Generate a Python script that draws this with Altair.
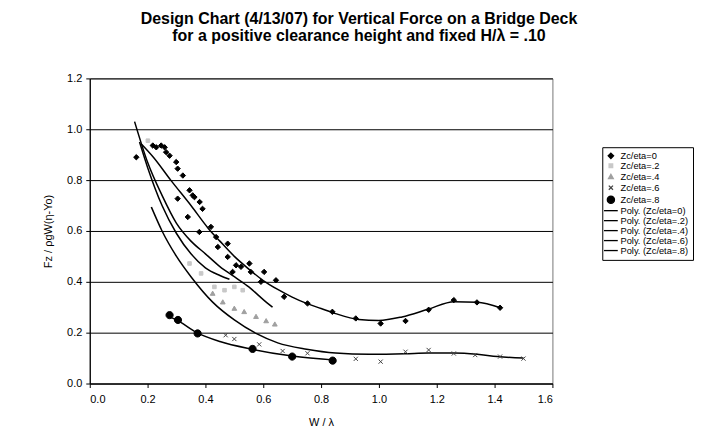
import altair as alt
import pandas as pd

# ---------------- data ----------------
SERIES = ["Zc/eta=0", "Zc/eta=.2", "Zc/eta=.4", "Zc/eta=.6", "Zc/eta=.8"]
POLY = ["Poly. (Zc/eta=0)", "Poly. (Zc/eta=.2)", "Poly. (Zc/eta=.4)",
        "Poly. (Zc/eta=.6)", "Poly. (Zc/eta=.8)"]

# measured points
x0 = [0.161, 0.218, 0.23, 0.247, 0.259, 0.264, 0.276, 0.299, 0.304, 0.322, 0.345,
      0.356, 0.362, 0.38, 0.39, 0.304, 0.339, 0.379, 0.419, 0.437, 0.443, 0.477,
      0.477, 0.494, 0.506, 0.523, 0.552, 0.557, 0.592, 0.603, 0.644, 0.672, 0.753,
      0.839, 0.92, 1.006, 1.092, 1.172, 1.259, 1.339, 1.419]
y0 = [0.89, 0.936, 0.929, 0.936, 0.929, 0.91, 0.896, 0.871, 0.845, 0.818, 0.76,
      0.74, 0.733, 0.714, 0.687, 0.727, 0.655, 0.596, 0.616, 0.576, 0.537, 0.55,
      0.498, 0.439, 0.465, 0.459, 0.472, 0.439, 0.40, 0.439, 0.406, 0.341, 0.315,
      0.282, 0.256, 0.236, 0.246, 0.29, 0.328, 0.319, 0.298]
x2 = [0.201, 0.345, 0.385, 0.431, 0.466, 0.5, 0.529]
y2 = [0.955, 0.472, 0.433, 0.38, 0.367, 0.38, 0.367]
x4 = [0.425, 0.46, 0.5, 0.534, 0.575, 0.61, 0.64]
y4 = [0.354, 0.32, 0.295, 0.282, 0.263, 0.246, 0.233]
x6 = [0.47, 0.5, 0.586, 0.667, 0.753, 0.92, 1.006, 1.092, 1.172, 1.259, 1.333, 1.419, 1.5]
y6 = [0.19, 0.175, 0.154, 0.128, 0.119, 0.097, 0.086, 0.125, 0.132, 0.118, 0.112, 0.106, 0.098]
x8 = [0.276, 0.305, 0.373, 0.563, 0.70, 0.84]
y8 = [0.269, 0.25, 0.197, 0.136, 0.106, 0.09]

# polynomial trend lines (traced)
lx0 = [0.18, 0.22, 0.28, 0.35, 0.41, 0.45, 0.5, 0.55, 0.6, 0.65, 0.7, 0.75, 0.8,
       0.85, 0.93, 1.0, 1.08, 1.17, 1.26, 1.34, 1.42]
ly0 = [0.94, 0.89, 0.80, 0.70, 0.61, 0.56, 0.50, 0.45, 0.405, 0.37, 0.34, 0.315,
       0.295, 0.275, 0.252, 0.248, 0.262, 0.292, 0.322, 0.32, 0.298]
lx2 = [0.155, 0.2, 0.25, 0.3, 0.35, 0.4, 0.45, 0.5, 0.55, 0.6, 0.632]
ly2 = [1.03, 0.87, 0.74, 0.63, 0.56, 0.51, 0.46, 0.42, 0.38, 0.33, 0.30]
lx4 = [0.172, 0.2, 0.25, 0.3, 0.35, 0.4, 0.45, 0.483]
ly4 = [0.95, 0.85, 0.70, 0.59, 0.51, 0.455, 0.425, 0.41]
lx6 = [0.213, 0.25, 0.3, 0.35, 0.425, 0.5, 0.575, 0.65, 0.75, 0.85, 0.966, 1.09,
       1.17, 1.26, 1.34, 1.41, 1.5]
ly6 = [0.694, 0.60, 0.50, 0.42, 0.32, 0.25, 0.197, 0.16, 0.135, 0.12, 0.115,
       0.117, 0.12, 0.12, 0.115, 0.106, 0.10]
lx8 = [0.27, 0.3, 0.37, 0.45, 0.56, 0.7, 0.85]
ly8 = [0.265, 0.25, 0.2, 0.165, 0.135, 0.108, 0.092]

X_TICKS = [0.0, 0.2, 0.4, 0.6, 0.8, 1.0, 1.2, 1.4, 1.6]
Y_TICKS = [0.0, 0.2, 0.4, 0.6, 0.8, 1.0, 1.2]

# ---------------- tables ----------------
pts = pd.concat([
    pd.DataFrame({"x": xs, "y": ys, "series": s})
    for xs, ys, s in zip([x0, x2, x4, x6, x8], [y0, y2, y4, y6, y8], SERIES)
])
lines = pd.concat([
    pd.DataFrame({"x": xs, "y": ys, "series": s})
    for xs, ys, s in zip([lx0, lx2, lx4, lx6, lx8], [ly0, ly2, ly4, ly6, ly8], POLY)
])

ALL = SERIES + POLY
shapes = [
    "M0,-0.9L0.9,0L0,0.9L-0.9,0Z",
    "M-0.6,-0.6H0.6V0.6H-0.6Z",
    "M0,-0.8L0.8,0.6H-0.8Z",
    "M-0.7,-0.7L0.7,0.7M-0.7,0.7L0.7,-0.7",
    "M-1.2,0A1.2,1.2 0 1,0 1.2,0A1.2,1.2 0 1,0 -1.2,0Z",
] + ["M-2.3,0H2.3"] * 5
fills = ["#000000", "#c8c8c8", "#a0a0a0", "#444444", "#000000"] + ["transparent"] * 5
strokes = ["#000000", "#c8c8c8", "#a0a0a0", "#444444", "#000000"] + ["#000000"] * 5

FONT = "Liberation Sans"

leg = alt.Legend(
    title=None, orient="none", legendX=514, legendY=69,
    strokeColor="#000000", padding=4,
    labelFont=FONT, labelFontSize=9.3, labelColor="#000000",
    symbolSize=36, symbolStrokeWidth=1.3, rowPadding=0, labelOffset=5,
)

xenc = alt.X("x:Q", scale=alt.Scale(domain=[0, 1.6], nice=False),
             axis=alt.Axis(values=X_TICKS, format=".1f", title="W / λ", grid=False))
yenc = alt.Y("y:Q", scale=alt.Scale(domain=[0, 1.2], nice=False),
             axis=alt.Axis(values=Y_TICKS, format=".1f", title="Fz / ρgW(η-Yo)", grid=True))

point_layer = alt.Chart(pts).mark_point(filled=True, opacity=1, size=36, strokeWidth=1).encode(
    x=xenc, y=yenc,
    fill=alt.Fill("series:N", scale=alt.Scale(domain=ALL, range=fills), legend=leg),
    stroke=alt.Stroke("series:N", scale=alt.Scale(domain=ALL, range=strokes), legend=leg),
    shape=alt.Shape("series:N", scale=alt.Scale(domain=ALL, range=shapes), legend=leg),
)

line_layer = alt.Chart(lines).mark_line(strokeWidth=1.5, interpolate="monotone").encode(
    x=xenc, y=yenc,
    stroke=alt.Stroke("series:N", scale=alt.Scale(domain=ALL, range=strokes), legend=leg),
    order="x:Q",
)

chart = alt.layer(line_layer, point_layer).properties(
    width=464, height=306,
    padding={"left": 34, "top": 2, "right": 0, "bottom": 0},
    title=alt.TitleParams(
        text=["Design Chart (4/13/07) for Vertical Force on a Bridge Deck",
              "for a positive clearance height and fixed H/λ = .10"],
        font=FONT, fontSize=16, fontWeight="bold", color="#000000",
        lineHeight=17, anchor="middle", frame="group", dx=38, offset=29,
    ),
).configure_view(
    stroke="#777777", strokeWidth=1,
).configure_legend(
    strokeWidth=1,
).configure_axis(
    labelFont=FONT, titleFont=FONT, labelFontSize=11, titleFontSize=11,
    labelColor="#000000", titleColor="#000000", titleFontWeight="normal",
    domainColor="#000000", tickColor="#000000", tickSize=4, domainWidth=1.2,
    gridColor="#000000", gridWidth=1, gridOpacity=1,
).configure_axisY(
    labelPadding=4, titlePadding=13,
).configure_axisX(
    labelPadding=6, titlePadding=12,
)

chart.save("out.html", embed_options={"renderer": "svg", "actions": False})
